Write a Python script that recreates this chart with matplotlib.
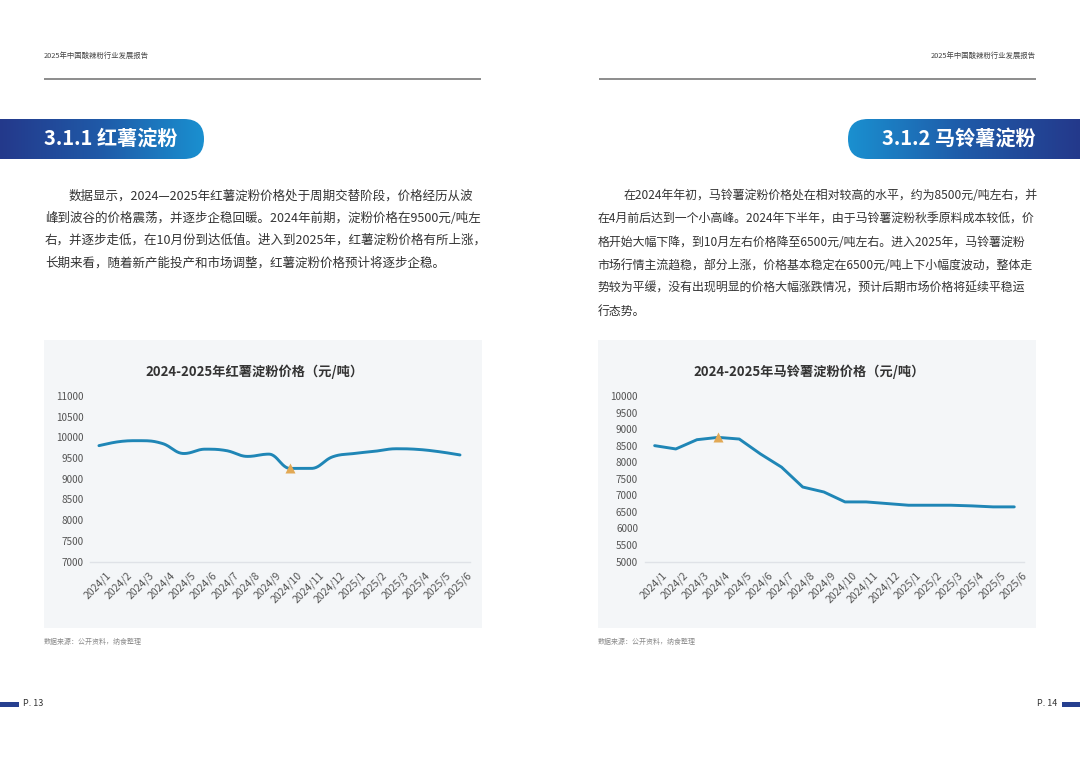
import numpy as np
import matplotlib
matplotlib.use('Agg')
import matplotlib.pyplot as plt
from matplotlib.patches import Rectangle, FancyBboxPatch
from matplotlib.colors import LinearSegmentedColormap
from matplotlib.transforms import ScaledTranslation

plt.rcParams['font.family'] = ['Noto Sans CJK SC', 'DejaVu Sans']

# ---------------- data ----------------
months = ['2024/1', '2024/2', '2024/3', '2024/4', '2024/5', '2024/6', '2024/7',
          '2024/8', '2024/9', '2024/10', '2024/11', '2024/12', '2025/1', '2025/2',
          '2025/3', '2025/4', '2025/5', '2025/6']
sweet_potato_price = [9800, 9900, 9920, 9850, 9610, 9715, 9680, 9540, 9595, 9250,
                      9250, 9530, 9610, 9665, 9725, 9710, 9655, 9575]
potato_price = [8500, 8400, 8680, 8750, 8700, 8250, 7850, 7250, 7100, 6800,
                6800, 6750, 6700, 6700, 6700, 6680, 6650, 6650]
left_yticks = [7000, 7500, 8000, 8500, 9000, 9500, 10000, 10500, 11000]
right_yticks = [5000, 5500, 6000, 6500, 7000, 7500, 8000, 8500, 9000, 9500, 10000]
left_min_idx = 9
right_max_idx = 3

header = '2025年中国酸辣粉行业发展报告'
left_section = '3.1.1 红薯淀粉'
right_section = '3.1.2 马铃薯淀粉'
left_title = '2024-2025年红薯淀粉价格（元/吨）'
right_title = '2024-2025年马铃薯淀粉价格（元/吨）'
source_note = '数据来源：公开资料，纳食整理'
left_body = [
    '数据显示，2024—2025年红薯淀粉价格处于周期交替阶段，价格经历从波',
    '峰到波谷的价格震荡，并逐步企稳回暖。2024年前期，淀粉价格在9500元/吨左',
    '右，并逐步走低，在10月份到达低值。进入到2025年，红薯淀粉价格有所上涨，',
    '长期来看，随着新产能投产和市场调整，红薯淀粉价格预计将逐步企稳。',
]
right_body = [
    '在2024年年初，马铃薯淀粉价格处在相对较高的水平，约为8500元/吨左右，并',
    '在4月前后达到一个小高峰。2024年下半年，由于马铃薯淀粉秋季原料成本较低，价',
    '格开始大幅下降，到10月左右价格降至6500元/吨左右。进入2025年，马铃薯淀粉',
    '市场行情主流趋稳，部分上涨，价格基本稳定在6500元/吨上下小幅度波动，整体走',
    '势较为平缓，没有出现明显的价格大幅涨跌情况，预计后期市场价格将延续平稳运',
    '行态势。',
]

# ---------------- styles ----------------
LINE_C = '#1f86b6'
MARK_C = '#e2a955'
PANEL_C = '#f4f6f8'
TEXT_C = '#333333'
TICK_C = '#555555'

fig = plt.figure(figsize=(10.8, 7.59), dpi=100)
fig.patch.set_facecolor('white')

bg = fig.add_axes([0, 0, 1, 1], zorder=0)
bg.set_axis_off()

# header
bg.text(44, 56, header, fontsize=5.3, color='#444444', ha='left', va='center')
bg.text(1036, 56, header, fontsize=5.3, color='#444444', ha='right', va='center')
bg.plot([44, 481], [78.5, 78.5], color='#6e6e6e', lw=1.1, solid_capstyle='butt')
bg.plot([598.5, 1036], [78.5, 78.5], color='#6e6e6e', lw=1.1, solid_capstyle='butt')

# section banners with gradient
grad = np.linspace(0, 1, 256).reshape(1, -1)
cmap_l = LinearSegmentedColormap.from_list('l', ['#24398b', '#1f5aa8', '#1a90d0'])
cmap_r = LinearSegmentedColormap.from_list('r', ['#1a90d0', '#1f5aa8', '#24398b'])
pl = FancyBboxPatch((-60, 119), 264, 40, boxstyle='round,pad=0,rounding_size=20',
                    facecolor='none', edgecolor='none')
bg.add_patch(pl)
iml = bg.imshow(grad, extent=[0, 204, 159, 119], cmap=cmap_l, aspect='auto', zorder=1)
iml.set_clip_path(pl)
pr = FancyBboxPatch((848, 119), 300, 40, boxstyle='round,pad=0,rounding_size=20',
                    facecolor='none', edgecolor='none')
bg.add_patch(pr)
imr = bg.imshow(grad, extent=[848, 1080, 159, 119], cmap=cmap_r, aspect='auto', zorder=1)
imr.set_clip_path(pr)
bg.text(44, 138.5, left_section, fontsize=14.5, fontweight='bold', color='white',
        ha='left', va='center', zorder=3)
bg.text(1036, 138.5, right_section, fontsize=14.5, fontweight='bold', color='white',
        ha='right', va='center', zorder=3)

# body text
left_y = [195.8, 218.2, 240.6, 263.0]
for i, (line, y) in enumerate(zip(left_body, left_y)):
    bg.text(69 if i == 0 else 44.8, y, line, fontsize=9.0, color=TEXT_C,
            ha='left', va='center')
right_y = [195.8, 219.0, 242.2, 265.4, 288.6, 311.8]
for i, (line, y) in enumerate(zip(right_body, right_y)):
    bg.text(623.5 if i == 0 else 597.8, y, line, fontsize=8.6, color=TEXT_C,
            ha='left', va='center')

# chart panels
bg.add_patch(Rectangle((44, 340), 438, 288, facecolor=PANEL_C, edgecolor='none', zorder=0.5))
bg.add_patch(Rectangle((598, 340), 438, 288, facecolor=PANEL_C, edgecolor='none', zorder=0.5))
bg.text(255, 372, left_title, fontsize=9.5, fontweight='bold', color=TEXT_C,
        ha='center', va='center')
bg.text(809, 372, right_title, fontsize=9.5, fontweight='bold', color=TEXT_C,
        ha='center', va='center')
bg.text(44, 642, source_note, fontsize=5, color='#8a8a8a', ha='left', va='center')
bg.text(598, 642, source_note, fontsize=5, color='#8a8a8a', ha='left', va='center')

# page footers
bg.add_patch(Rectangle((0, 701.5), 18.5, 5, facecolor='#263f8f', edgecolor='none'))
bg.text(23, 704, 'P. 13', fontsize=6.5, color=TEXT_C, ha='left', va='center')
bg.add_patch(Rectangle((1061.5, 701.5), 18.5, 5, facecolor='#263f8f', edgecolor='none'))
bg.text(1057, 704, 'P. 14', fontsize=6.5, color=TEXT_C, ha='right', va='center')

bg.set_xlim(0, 1080)
bg.set_ylim(759, 0)

W, H = 1080.0, 759.0


def smooth_curve(xs, ys, k=0.2, n=24):
    """Bezier smoothing through the data points (monotone at extrema)."""
    xs = np.asarray(xs, float)
    ys = np.asarray(ys, float)
    m = len(xs)
    cx = np.zeros(m)
    cy = np.zeros(m)
    for i in range(m):
        a = max(i - 1, 0)
        b = min(i + 1, m - 1)
        cx[i] = (xs[b] - xs[a]) * k
        cy[i] = (ys[b] - ys[a]) * k
        if 0 < i < m - 1 and (ys[i] - ys[a]) * (ys[b] - ys[i]) <= 0:
            cy[i] = 0.0
    out_x, out_y = [], []
    t = np.linspace(0, 1, n, endpoint=False)
    for i in range(m - 1):
        p0 = np.array([xs[i], ys[i]])
        p1 = p0 + np.array([cx[i], cy[i]])
        p3 = np.array([xs[i + 1], ys[i + 1]])
        p2 = p3 - np.array([cx[i + 1], cy[i + 1]])
        bx = ((1 - t) ** 3) * p0[0] + 3 * ((1 - t) ** 2) * t * p1[0] + 3 * (1 - t) * t ** 2 * p2[0] + t ** 3 * p3[0]
        by = ((1 - t) ** 3) * p0[1] + 3 * ((1 - t) ** 2) * t * p1[1] + 3 * (1 - t) * t ** 2 * p2[1] + t ** 3 * p3[1]
        out_x.extend(bx)
        out_y.extend(by)
    out_x.append(xs[-1])
    out_y.append(ys[-1])
    return np.array(out_x), np.array(out_y)


def make_axes(x0, x1, xlim, yticks):
    ax = fig.add_axes([x0 / W, (H - 561.5) / H, (x1 - x0) / W, 165.5 / H], zorder=2)
    ax.patch.set_alpha(0)
    for s in ['top', 'right', 'left']:
        ax.spines[s].set_visible(False)
    ax.spines['bottom'].set_color('#dfe2e7')
    ax.spines['bottom'].set_linewidth(1.0)
    ax.set_xlim(*xlim)
    ax.set_ylim(yticks[0], yticks[-1])
    ax.set_yticks(yticks)
    ax.set_yticklabels([str(v) for v in yticks])
    ax.tick_params(axis='y', length=0, pad=4.8, labelsize=7.2, labelcolor=TICK_C)
    x = np.arange(len(months))
    ax.set_xticks(x)
    ax.set_xticklabels(months)
    ax.tick_params(axis='x', length=0, pad=0, labelsize=7.5, labelcolor=TICK_C)
    off = ScaledTranslation(7 / 100, -8.5 / 100, fig.dpi_scale_trans)
    for lab in ax.get_xticklabels():
        lab.set_rotation(45)
        lab.set_ha('right')
        lab.set_va('top')
        lab.set_rotation_mode('anchor')
        lab.set_transform(lab.get_transform() + off)
    return ax


x = np.arange(len(months))

axl = make_axes(90, 470, (-0.42, 17.47), left_yticks)
sx, sy = smooth_curve(x, sweet_potato_price)
axl.plot(sx, sy, color=LINE_C, lw=2.1, solid_capstyle='round', zorder=3)
axl.plot(x[left_min_idx], sweet_potato_price[left_min_idx], marker='^', ms=6.5,
         color=MARK_C, mec='none', zorder=4, clip_on=False)

axr = make_axes(644.7, 1024, (-0.47, 17.46), right_yticks)
axr.plot(x, potato_price, color=LINE_C, lw=2.1, solid_joinstyle='round',
         solid_capstyle='round', zorder=3)
axr.plot(x[right_max_idx], potato_price[right_max_idx], marker='^', ms=6.5,
         color=MARK_C, mec='none', zorder=4, clip_on=False)

fig.savefig('out.png', dpi=100, facecolor='white')
